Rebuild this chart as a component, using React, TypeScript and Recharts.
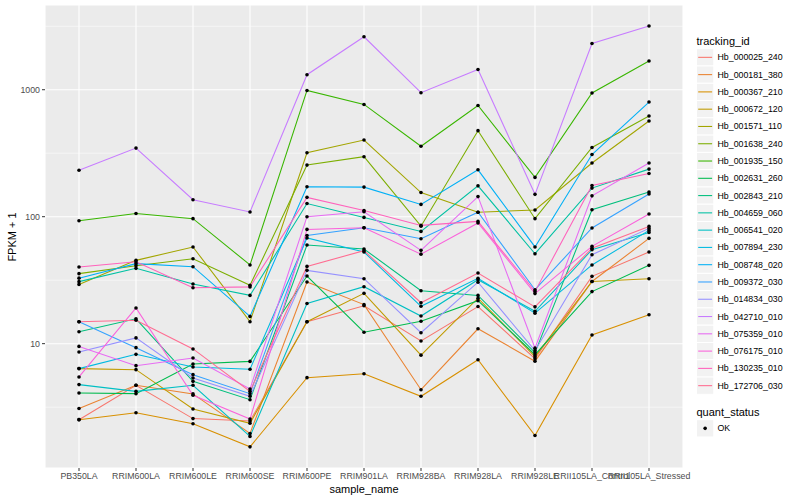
import React from "react";
import { LineChart, Line, XAxis, YAxis, CartesianGrid } from "recharts";

const categories = [
  "PB350LA", "RRIM600LA", "RRIM600LE", "RRIM600SE", "RRIM600PE", "RRIM901LA",
  "RRIM928BA", "RRIM928LA", "RRIM928LE", "RRII105LA_Control", "RRII105LA_Stressed",
];

const trackingIds = [
  "Hb_000025_240", "Hb_000181_380", "Hb_000367_210", "Hb_000672_120", "Hb_001571_110",
  "Hb_001638_240", "Hb_001935_150", "Hb_002631_260", "Hb_002843_210", "Hb_004659_060",
  "Hb_006541_020", "Hb_007894_230", "Hb_008748_020", "Hb_009372_030", "Hb_014834_030",
  "Hb_042710_010", "Hb_075359_010", "Hb_076175_010", "Hb_130235_010", "Hb_172706_030",
];

const seriesColors = [
  "#F8766D", "#EA8331", "#D89000", "#C09B00", "#A3A500", "#7CAE00", "#39B600",
  "#00BB4E", "#00BF7D", "#00C1A3", "#00BFC4", "#00BAE0", "#00B0F6", "#35A2FF",
  "#9590FF", "#C77CFF", "#E76BF3", "#FA62DB", "#FF62BC", "#FF6C91",
];

const hb000025_240 = [2.52, 4.7, 2.57, 2.46, 14.9, 19.9, 10.5, 19.6, 7.62, 33.9, 52.7];
const hb000181_380 = [3.09, 4.7, 4.02, 1.96, 30.6, 20.3, 4.34, 13.1, 7.28, 30.9, 67.5];
const hb000367_210 = [2.52, 2.86, 2.34, 1.54, 5.4, 5.8, 3.85, 7.48, 1.89, 11.7, 16.9];
const hb000672_120 = [6.36, 6.24, 3.06, 2.36, 14.9, 24.9, 8.12, 22.8, 7.9, 30.9, 32.5];
const hb001571_110 = [29.3, 45.3, 57.7, 14.9, 319, 402, 155, 108.5, 113, 265, 567];
const hb001638_240 = [35.6, 41.1, 46.7, 28.8, 255, 297, 84.2, 476, 96.5, 351, 621];
const hb001935_150 = [93, 106, 96.5, 41.7, 987, 766, 359, 752, 204, 942, 1686];
const hb002631_260 = [4.09, 4.04, 6.92, 7.25, 34.1, 12.3, 15.0, 21.8, 8.19, 25.7, 41.4];
const hb002843_210 = [12.4, 15.7, 5.05, 3.62, 59.9, 55.7, 26.1, 24.0, 8.5, 113.5, 156.5];
const hb004659_060 = [30.8, 39.2, 29.5, 24.0, 127, 98.7, 76.6, 175, 51.1, 168, 237];
const hb006541_020 = [4.76, 4.21, 4.7, 1.86, 20.7, 28.1, 16.5, 31.9, 18.0, 55.0, 75.2];
const hb007894_230 = [6.36, 8.24, 6.55, 6.28, 68.0, 52.7, 19.7, 32.7, 17.4, 41.7, 78.0];
const hb008748_020 = [32.8, 42.7, 40.4, 16.4, 172, 171, 125, 234, 57.8, 309, 800];
const hb009372_030 = [14.9, 9.3, 5.7, 4.04, 71.2, 81.9, 67.1, 108.5, 26.6, 81.5, 151];
const hb014834_030 = [8.6, 11.1, 5.37, 3.85, 37.8, 32.5, 12.2, 30.5, 8.81, 50.2, 80.9];
const hb042710_010 = [232, 347, 136, 109, 1313, 2614, 947, 1443, 150, 2311, 3174];
const hb075359_010 = [9.52, 6.71, 7.72, 4.4, 100, 109.5, 54.3, 144, 9.22, 146, 265];
const hb076175_010 = [5.47, 19.1, 3.92, 2.55, 79.4, 81.9, 50.7, 89.2, 24.8, 58.4, 105];
const hb130235_010 = [40.2, 44.2, 27.6, 28.0, 142, 112, 85.4, 91.8, 25.8, 176, 219];
const hb172706_030 = [14.9, 15.3, 9.09, 4.21, 40.6, 54.0, 21.0, 36.0, 19.5, 56.5, 83.9];

const seriesValues = [
  hb000025_240, hb000181_380, hb000367_210, hb000672_120, hb001571_110,
  hb001638_240, hb001935_150, hb002631_260, hb002843_210, hb004659_060,
  hb006541_020, hb007894_230, hb008748_020, hb009372_030, hb014834_030,
  hb042710_010, hb075359_010, hb076175_010, hb130235_010, hb172706_030,
];

const yTicks = [10, 100, 1000];
const yMinor = [3.1623, 31.623, 316.23, 3162.3];
const yDomain = [1.049, 4649];

const data = categories.map((name, i) => {
  const row: Record<string, number | string> = { name };
  trackingIds.forEach((id, s) => {
    row[id] = seriesValues[s][i];
  });
  return row;
});

const FONT = "'Liberation Sans', Arial, Helvetica, sans-serif";

export default function App() {
  const keyTop = 48.7;
  const keyH = 17.28;
  return (
    <div style={{ position: "absolute", left: 0, top: 0, width: 800, height: 500, background: "#fff", fontFamily: FONT }}>
      <LineChart
        width={800}
        height={500}
        data={data}
        margin={{ top: 5, right: 117, bottom: 0, left: 0 }}
        style={{ fontFamily: FONT }}
      >
        <CartesianGrid fill="#EBEBEB" stroke="#FFFFFF" strokeWidth={1.07} />
        <CartesianGrid
          fill="none"
          vertical={false}
          horizontalValues={yMinor}
          stroke="#FFFFFF"
          strokeWidth={0.53}
        />
        <XAxis
          dataKey="name"
          interval={0}
          padding={{ left: 34, right: 34 }}
          height={32}
          axisLine={false}
          tickLine={{ stroke: "#333333" }}
          tickSize={3}
          tickMargin={2}
          tick={{ fill: "#4D4D4D", fontSize: 8.8, fontFamily: FONT }}
        />
        <YAxis
          scale="log"
          domain={yDomain}
          allowDataOverflow
          ticks={yTicks}
          width={45}
          axisLine={false}
          tickLine={{ stroke: "#333333" }}
          tickSize={3}
          tickMargin={2}
          tick={{ fill: "#4D4D4D", fontSize: 8.8, fontFamily: FONT }}
          tickFormatter={(v: number) => String(v)}
        />
        {trackingIds.map((id, s) => (
          <Line
            key={"l" + id}
            type="linear"
            dataKey={id}
            stroke={seriesColors[s]}
            strokeWidth={1.07}
            dot={false}
            activeDot={false}
            isAnimationActive={false}
          />
        ))}
        {trackingIds.map((id) => (
          <Line
            key={"p" + id}
            type="linear"
            dataKey={id}
            stroke="none"
            legendType="none"
            dot={{ r: 1.8, fill: "#000000", stroke: "none" }}
            activeDot={false}
            isAnimationActive={false}
          />
        ))}
      </LineChart>
      <svg
        width={800}
        height={500}
        style={{ position: "absolute", left: 0, top: 0, pointerEvents: "none", fontFamily: FONT }}
      >
        <text x={364} y={489} textAnchor="middle" dominantBaseline="central" fontSize={11} fill="#000">
          sample_name
        </text>
        <text
          x={12}
          y={237}
          textAnchor="middle"
          dominantBaseline="central"
          fontSize={11}
          fill="#000"
          transform="rotate(-90 12 237)"
        >
          FPKM + 1
        </text>
        <text x={696.5} y={40.7} dominantBaseline="central" fontSize={11} fill="#000">
          tracking_id
        </text>
        {trackingIds.map((id, s) => {
          const y = keyTop + keyH * s;
          return (
            <g key={"k" + id}>
              <rect x={696.5} y={y} width={keyH} height={keyH} fill="#F2F2F2" stroke="#FFFFFF" strokeWidth={1} />
              <line x1={698.2} x2={712.1} y1={y + keyH / 2} y2={y + keyH / 2} stroke={seriesColors[s]} strokeWidth={1.07} />
              <text x={717.5} y={y + keyH / 2} dominantBaseline="central" fontSize={8.8} fill="#000">
                {id}
              </text>
            </g>
          );
        })}
        <text x={696.5} y={411.7} dominantBaseline="central" fontSize={11} fill="#000">
          quant_status
        </text>
        <rect x={696.5} y={419.7} width={keyH} height={keyH} fill="#F2F2F2" stroke="#FFFFFF" strokeWidth={1} />
        <circle cx={696.5 + keyH / 2} cy={419.7 + keyH / 2} r={1.8} fill="#000" />
        <text x={717.5} y={419.7 + keyH / 2} dominantBaseline="central" fontSize={8.8} fill="#000">
          OK
        </text>
      </svg>
    </div>
  );
}
